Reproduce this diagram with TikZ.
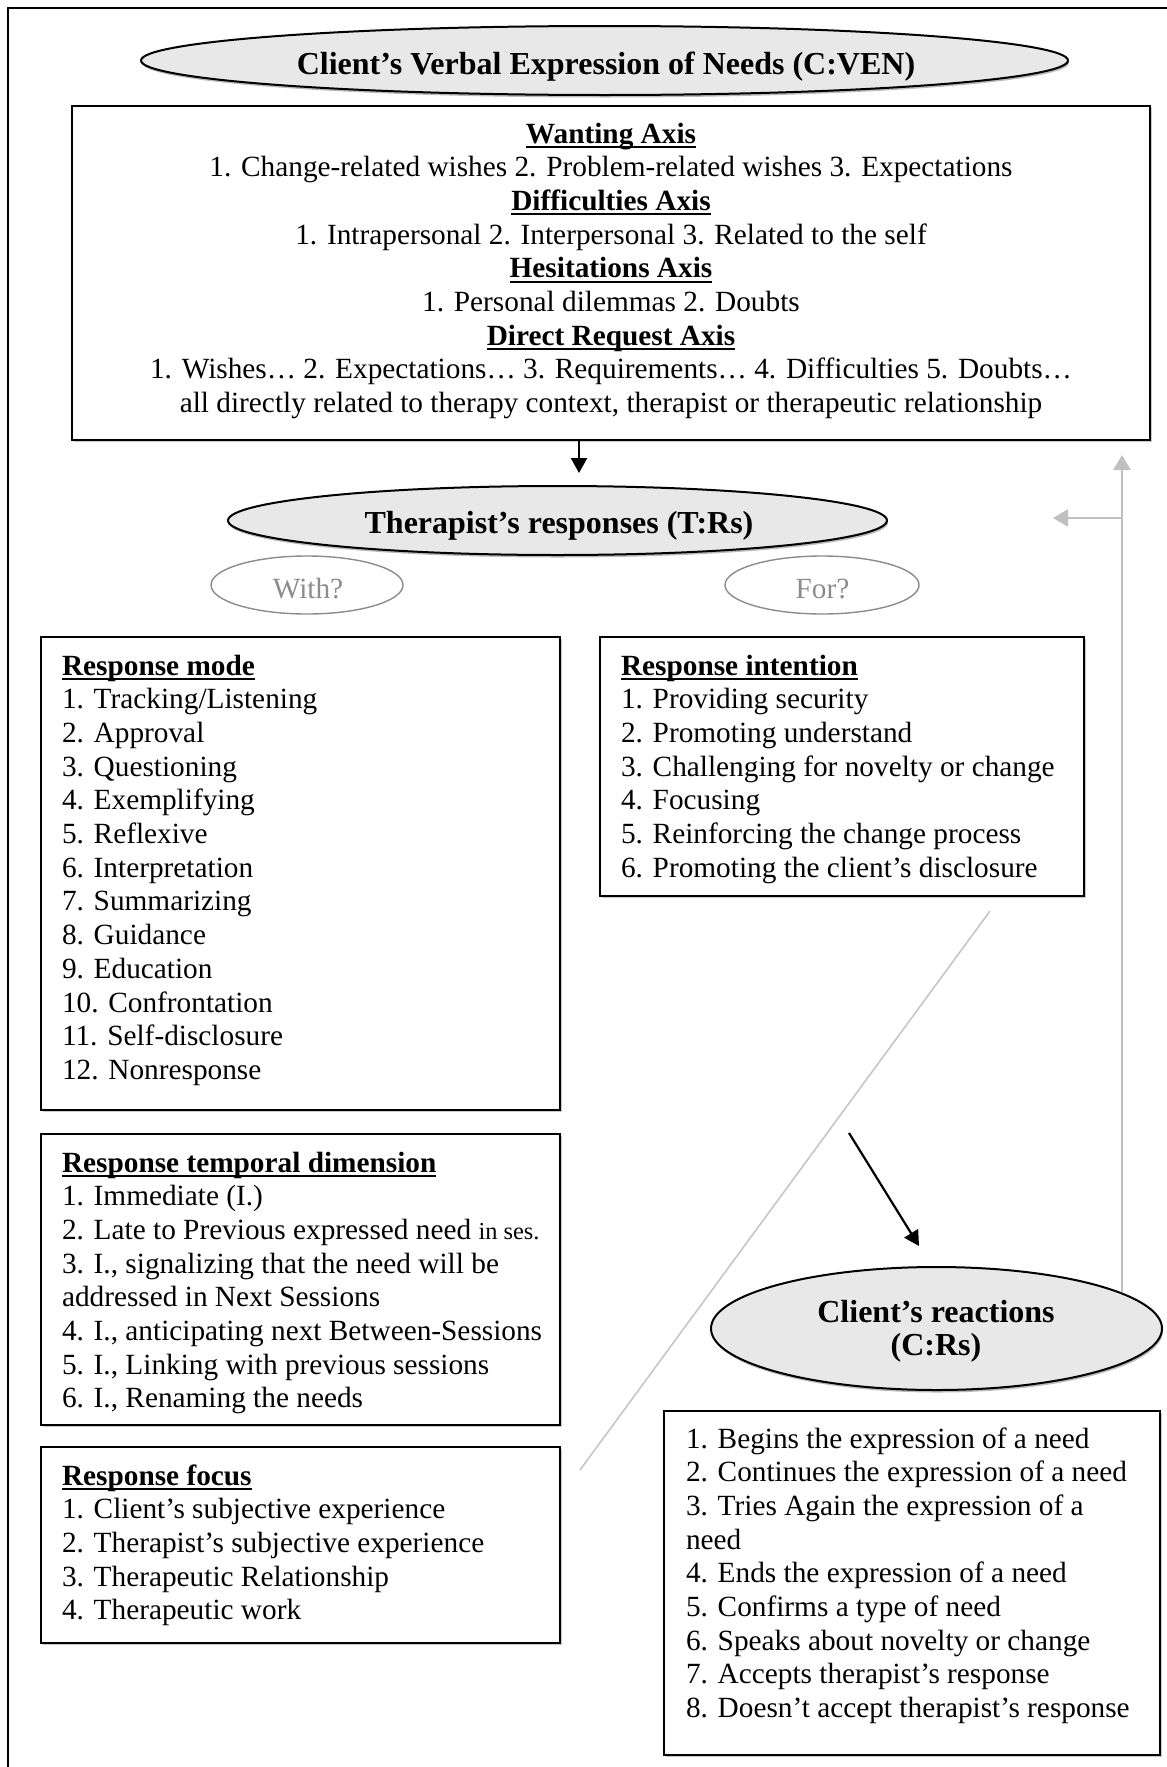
\documentclass[tikz,border=0pt]{standalone}
\usepackage{fontspec}
\setmainfont{Liberation Serif}
\usetikzlibrary{shapes.geometric,arrows.meta,shadows}

\definecolor{ellfill}{HTML}{E8E8E8}
\definecolor{loopgray}{HTML}{C0C0C0}
\definecolor{askgray}{HTML}{8C8C8C}
\definecolor{slashgray}{HTML}{C4C4C4}

% type sizes (1pt of the picture = 1 unit)
\newcommand\bodysize{\fontsize{29.3pt}{33.7pt}\selectfont}
\newcommand\smallsize{\fontsize{24.4pt}{28pt}\selectfont}
\newcommand\headsize{\fontsize{32pt}{36pt}\selectfont\bfseries}
% bold heading with a word-processor style underline
\newcommand\axisul[1]{\setbox0\hbox{\textbf{#1}}\rlap{\rule[-5pt]{\wd0}{2pt}}\box0}

\begin{document}
\begin{tikzpicture}[x=1pt,y=-1pt,
  every node/.style={inner sep=0pt, outer sep=0pt},
  bigell/.style={ellipse, draw=black, line width=2pt, fill=ellfill,
    drop shadow={shadow xshift=1pt, shadow yshift=-2.5pt, opacity=0.45, fill=black!60}},
  askell/.style={ellipse, draw=askgray, line width=1.4pt},
  listbox/.style={rectangle, draw=black, line width=1.8pt, fill=white, anchor=north west,
    drop shadow={shadow xshift=1.5pt, shadow yshift=-1.5pt, opacity=0.35, fill=black!60}},
  headlabel/.style={font=\headsize, anchor=base},
  bodytext/.style={font=\bodysize, anchor=base west},
  centretext/.style={font=\bodysize, anchor=base},
  asktext/.style={font=\bodysize, text=askgray, anchor=base},
  downarrow/.style={line width=2.2pt, -{Triangle[length=15pt,width=16pt]}},
  looparrow/.style={draw=loopgray, line width=2.5pt, -{Triangle[length=15pt,width=17pt]}},
  slashline/.style={draw=slashgray, line width=1.5pt},
]
\path[use as bounding box, fill=white] (0,0) rectangle (1167,1767);

% outer frame
\draw[line width=2.6pt] (1167,8) -- (8,8) -- (8,1767);

% ---- client's verbal expression of needs ----
\node[bigell, minimum width=927pt, minimum height=69pt] (cven) at (604.5,60.5) {};
\node[headlabel] (cvenlabel) at (606,74) {Client’s Verbal Expression of Needs (C:VEN)};

\node[listbox, minimum width=1078pt, minimum height=334pt] (axes) at (72,106) {};
\foreach \txt [count=\k from 0] in {
  {\axisul{Wanting Axis}},
  {1. Change-related wishes 2. Problem-related wishes 3. Expectations},
  {\axisul{Difficulties Axis}},
  {1. Intrapersonal 2. Interpersonal 3. Related to the self},
  {\axisul{Hesitations Axis}},
  {1. Personal dilemmas 2. Doubts},
  {\axisul{Direct Request Axis}},
  {1. Wishes… 2. Expectations… 3. Requirements… 4. Difficulties 5. Doubts…},
  {all directly related to therapy context, therapist or therapeutic relationship}}
  \node[centretext] (axis-\k) at (611,143+33.7*\k) {\txt};

% ---- therapist's responses ----
\node[bigell, minimum width=659pt, minimum height=69pt] (trs) at (557.5,520.5) {};
\node[headlabel] (trslabel) at (559,533) {Therapist’s responses (T:Rs)};

\coordinate (trsin) at (579,473);
\draw[downarrow] (axes.south -| trsin) -- (trsin);

\node[askell, minimum width=192pt, minimum height=58pt] (with) at (307,585) {};
\node[asktext] (withlabel) at (308,598) {With?};
\node[askell, minimum width=194pt, minimum height=58pt] (for) at (822,585) {};
\node[asktext] (forlabel) at (822.5,598) {For?};

% response mode
\node[listbox, minimum width=519pt, minimum height=473pt] (rmode) at (41,637) {};
\node[bodytext] (rmode-title) at (62,675) {\axisul{Response mode}};
\foreach \txt [count=\k from 0] in {
  {1. Tracking/Listening}, {2. Approval}, {3. Questioning}, {4. Exemplifying},
  {5. Reflexive}, {6. Interpretation}, {7. Summarizing}, {8. Guidance},
  {9. Education}, {10. Confrontation}, {11. Self-disclosure}, {12. Nonresponse}}
  \node[bodytext] (rmode-\k) at (62,708.7+33.7*\k) {\txt};

% response intention
\node[listbox, minimum width=484pt, minimum height=259pt] (rint) at (600,637) {};
\node[bodytext] (rint-title) at (621,675) {\axisul{Response intention}};
\foreach \txt [count=\k from 0] in {
  {1. Providing security}, {2. Promoting understand},
  {3. Challenging for novelty or change}, {4. Focusing},
  {5. Reinforcing the change process}, {6. Promoting the client’s disclosure}}
  \node[bodytext] (rint-\k) at (621,708.7+33.7*\k) {\txt};

% response temporal dimension
\node[listbox, minimum width=519pt, minimum height=291pt] (rtemp) at (41,1134) {};
\node[bodytext] (rtemp-title) at (62,1172) {\axisul{Response temporal dimension}};
\foreach \txt [count=\k from 0] in {
  {1. Immediate (I.)},
  {2. Late to Previous expressed need {\smallsize in ses.}},
  {3. I., signalizing that the need will be},
  {addressed in Next Sessions},
  {4. I., anticipating next Between-Sessions},
  {5. I., Linking with previous sessions},
  {6. I., Renaming the needs}}
  \node[bodytext] (rtemp-\k) at (62,1205.7+33.7*\k) {\txt};

% response focus
\node[listbox, minimum width=519pt, minimum height=196pt] (rfocus) at (41,1447) {};
\node[bodytext] (rfocus-title) at (62,1485) {\axisul{Response focus}};
\foreach \txt [count=\k from 0] in {
  {1. Client’s subjective experience}, {2. Therapist’s subjective experience},
  {3. Therapeutic Relationship}, {4. Therapeutic work}}
  \node[bodytext] (rfocus-\k) at (62,1518.7+33.7*\k) {\txt};

% ---- client's reactions ----
\node[bigell, minimum width=451pt, minimum height=123pt] (crs) at (936.5,1328.5) {};
\node[headlabel] (crslabel-1) at (936,1322) {Client’s reactions};
\node[headlabel] (crslabel-2) at (936,1355) {(C:Rs)};

\node[listbox, minimum width=496pt, minimum height=344pt] (creact) at (664,1411) {};
\foreach \txt [count=\k from 0] in {
  {1. Begins the expression of a need}, {2. Continues the expression of a need},
  {3. Tries Again the expression of a}, {need},
  {4. Ends the expression of a need}, {5. Confirms a type of need},
  {6. Speaks about novelty or change}, {7. Accepts therapist’s response},
  {8. Doesn’t accept therapist’s response}}
  \node[bodytext] (creact-\k) at (686,1448+33.7*\k) {\txt};

% ---- connectors ----
\coordinate (slashtop) at (990,911);
\coordinate (slashbottom) at (580,1470);
\draw[slashline] (slashtop) -- (slashbottom);

\coordinate (crsfrom) at (849,1133);
\coordinate (crsin) at (919,1246);
\draw[downarrow] (crsfrom) -- (crsin);

\coordinate (looptop) at (1122,455);
\coordinate (loopbottom) at (1122,1292);
\coordinate (loopleft) at (1053,518);
\draw[looparrow] (loopbottom) -- (looptop);
\draw[looparrow] (looptop |- loopleft) -- (loopleft);
\end{tikzpicture}
\end{document}
